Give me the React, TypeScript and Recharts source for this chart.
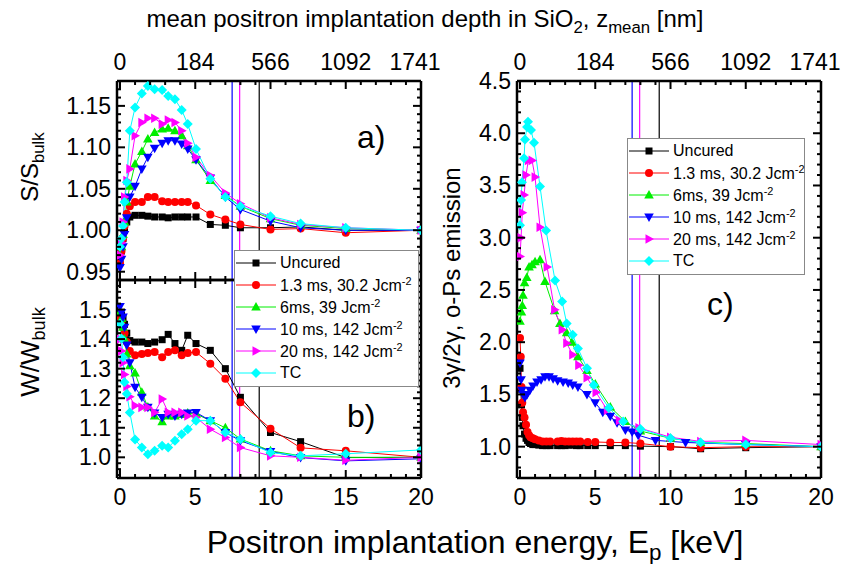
import { LineChart, Line, XAxis, YAxis, ReferenceLine, Legend } from 'recharts';

const W = 845;
const H = 564;
const FONT = '"Liberation Sans", Arial, sans-serif';
const TICK_FONT = 23;

// ---- axes ----
const energyDomain: [number, number] = [-0.2, 20];
const xMajor = [0, 5, 10, 15, 20];
const xMinor = [0, 1, 2, 3, 4, 5, 6, 7, 8, 9, 10, 11, 12, 13, 14, 15, 16, 17, 18, 19, 20];
const energyLabels = ['0', '5', '10', '15', '20'];
const depthLabels = ['0', '184', '566', '1092', '1741'];

const sDomain: [number, number] = [0.94, 1.18];
const sMajor = [0.95, 1.0, 1.05, 1.1, 1.15];
const sLabels = ['0.95', '1.00', '1.05', '1.10', '1.15'];

const wDomain: [number, number] = [0.93, 1.6];
const wMajor = [1.0, 1.1, 1.2, 1.3, 1.4, 1.5];
const wLabels = ['1.0', '1.1', '1.2', '1.3', '1.4', '1.5'];

const psDomain: [number, number] = [0.7, 4.5];
const psMajor = [1.0, 1.5, 2.0, 2.5, 3.0, 3.5, 4.0, 4.5];
const psLabels = ['1.0', '1.5', '2.0', '2.5', '3.0', '3.5', '4.0', '4.5'];

function steps(from: number, to: number, step: number) {
  const out: number[] = [];
  for (let v = from; v <= to + 1e-9; v += step) out.push(Math.round(v * 1000) / 1000);
  return out;
}
const sMinor = steps(0.94, 1.18, 0.01);
const wMinor = steps(0.94, 1.6, 0.02);
const psMinor = steps(0.7, 4.5, 0.1);

// vertical marker lines (keV)
const cutEnergies = [7.45, 7.95, 9.25];
const cutColors = ['#0000ff', '#ff00ff', '#000000'];

// ---- series ----
const seriesNames = ['Uncured', '1.3 ms, 30.2 Jcm', '6ms, 39 Jcm', '10 ms, 142 Jcm', '20 ms, 142 Jcm', 'TC'];
const seriesSup = ['', '-2', '-2', '-2', '-2', ''];
const seriesColors = ['#000000', '#ff0000', '#00ee00', '#0000ff', '#ff00ff', '#00ffff'];
const seriesMarkers = ['square', 'circle', 'up', 'down', 'right', 'diamond'];

// S and W profiles share one energy grid (keV)
const energyAB = [0, 0.1, 0.2, 0.3, 0.45, 0.65, 1.0, 1.45, 1.85, 2.3, 2.8, 3.2, 3.65, 4.1, 4.5, 5.05, 6, 7, 8, 10, 12, 15, 20];

const sUncured = [0.965, 0.975, 0.99, 1.0, 1.01, 1.016, 1.018, 1.018, 1.017, 1.016, 1.016, 1.015, 1.016, 1.016, 1.016, 1.016, 1.007, 1.006, 1.003, 1.003, 1.004, 1.0, 1.0];
const s13ms = [0.96, 0.975, 0.99, 1.005, 1.02, 1.029, 1.034, 1.034, 1.04, 1.04, 1.035, 1.034, 1.034, 1.034, 1.034, 1.03, 1.019, 1.013, 1.007, 1.001, 1.002, 0.997, 1.0];
const s6ms = [0.97, 0.98, 0.995, 1.01, 1.034, 1.053, 1.08, 1.095, 1.11, 1.118, 1.122, 1.123, 1.12, 1.114, 1.102, 1.085, 1.06, 1.042, 1.029, 1.014, 1.006, 1.002, 1.0];
const s10ms = [0.955, 0.965, 0.98, 0.995, 1.015, 1.04, 1.053, 1.074, 1.088, 1.099, 1.105, 1.108, 1.108, 1.104, 1.098, 1.085, 1.063, 1.04, 1.025, 1.011, 1.003, 1.0, 1.0];
const s20ms = [0.97, 0.985, 1.01, 1.04, 1.06, 1.074, 1.114, 1.13, 1.135, 1.135, 1.128, 1.133, 1.13, 1.12, 1.105, 1.088, 1.066, 1.045, 1.032, 1.015, 1.007, 1.003, 1.0];
const sTC = [0.98, 0.99, 1.005, 1.034, 1.058, 1.12, 1.148, 1.165, 1.174, 1.17, 1.169, 1.162, 1.158, 1.145, 1.128, 1.098, 1.062, 1.04, 1.029, 1.017, 1.008, 1.003, 1.0];

const wUncured = [1.49, 1.48, 1.47, 1.45, 1.42, 1.395, 1.39, 1.39, 1.385, 1.39, 1.398, 1.416, 1.385, 1.362, 1.413, 1.385, 1.362, 1.3, 1.203, 1.084, 1.053, 0.999, 1.0];
const w13ms = [1.475, 1.46, 1.44, 1.42, 1.39, 1.36, 1.345, 1.35, 1.353, 1.356, 1.339, 1.356, 1.362, 1.345, 1.353, 1.356, 1.317, 1.266, 1.186, 1.097, 1.032, 1.022, 1.0];
const w6ms = [1.49, 1.47, 1.44, 1.4, 1.35, 1.31, 1.285, 1.22, 1.17, 1.14, 1.12, 1.14, 1.14, 1.145, 1.15, 1.147, 1.124, 1.1, 1.062, 1.022, 1.005, 1.0, 1.0];
const w10ms = [1.51, 1.49, 1.475, 1.44, 1.38, 1.32, 1.237, 1.203, 1.169, 1.15, 1.135, 1.146, 1.14, 1.146, 1.15, 1.152, 1.124, 1.084, 1.056, 1.02, 0.999, 0.988, 0.995];
const w20ms = [1.4, 1.36, 1.32, 1.28, 1.24, 1.205, 1.175, 1.169, 1.169, 1.152, 1.197, 1.152, 1.152, 1.152, 1.14, 1.135, 1.095, 1.067, 1.033, 1.005, 1.0, 0.99, 1.0];
const wTC = [1.453, 1.402, 1.339, 1.254, 1.215, 1.152, 1.06, 1.033, 1.01, 1.022, 1.039, 1.033, 1.056, 1.078, 1.095, 1.124, 1.124, 1.084, 1.061, 1.016, 1.005, 1.012, 1.025];

// 3gamma/2gamma ratio, each sample has its own energy grid
const eDenseC = [0, 0.05, 0.1, 0.15, 0.2, 0.3, 0.4, 0.5, 0.6, 0.7, 0.85, 1.0, 1.25, 1.5, 1.75, 2.0, 2.5, 2.75, 3.0, 3.25, 3.5, 3.75, 4.0, 4.5, 5.0, 6.0, 7.0, 8.0, 10, 12, 15, 20];
const psUncured = [1.75, 1.55, 1.4, 1.28, 1.2, 1.12, 1.08, 1.06, 1.04, 1.03, 1.02, 1.02, 1.015, 1.01, 1.01, 1.01, 1.01, 1.01, 1.01, 1.015, 1.015, 1.01, 1.01, 1.01, 1.01, 1.01, 1.01, 1.005, 1.0, 0.98, 0.99, 1.0];
const ps13ms = [2.04, 1.86, 1.57, 1.42, 1.33, 1.28, 1.21, 1.14, 1.11, 1.09, 1.08, 1.07, 1.06, 1.05, 1.05, 1.05, 1.05, 1.055, 1.05, 1.05, 1.05, 1.05, 1.05, 1.045, 1.045, 1.04, 1.04, 1.03, 1.0, 0.99, 1.0, 1.0];
const e6msC = [0, 0.1, 0.15, 0.2, 0.3, 0.45, 0.6, 0.8, 1.0, 1.33, 1.66, 2.3, 2.65, 3.1, 3.45, 3.85, 4.45, 5.0, 6, 7, 8, 10, 12, 15, 20];
const ps6ms = [2.2, 2.29, 2.35, 2.45, 2.57, 2.62, 2.72, 2.74, 2.77, 2.79, 2.58, 2.3, 2.18, 2.09, 2.0, 1.86, 1.73, 1.6, 1.38, 1.24, 1.15, 1.08, 1.04, 1.03, 1.0];
const e10msC = [0, 0.07, 0.13, 0.2, 0.33, 0.47, 0.66, 0.86, 1.13, 1.4, 1.66, 1.93, 2.2, 2.5, 2.86, 3.2, 3.5, 3.85, 4.45, 5.0, 5.5, 6.0, 6.45, 7.0, 7.45, 7.85, 9.0, 11, 15, 20];
const ps10ms = [1.8, 1.64, 1.54, 1.5, 1.47, 1.5, 1.54, 1.58, 1.62, 1.64, 1.67, 1.67, 1.65, 1.63, 1.62, 1.61, 1.59, 1.57, 1.5, 1.42, 1.33, 1.29, 1.23, 1.16, 1.14, 1.11, 1.06, 1.04, 1.02, 1.0];
const e20msC = [0, 0.07, 0.15, 0.27, 0.4, 0.55, 0.8, 1.0, 1.33, 1.8, 2.3, 2.8, 3.1, 3.5, 3.9, 4.45, 5.05, 5.8, 6.6, 7.9, 10, 12, 15, 20];
const ps20ms = [2.82, 3.0, 3.24, 3.41, 3.6, 3.74, 3.74, 3.58, 3.1, 2.72, 2.31, 2.12, 1.99, 1.88, 1.78, 1.66, 1.52, 1.35, 1.25, 1.18, 1.09, 1.05, 1.06, 1.02];
const eTCC = [0, 0.07, 0.13, 0.27, 0.33, 0.47, 0.53, 0.73, 0.93, 1.33, 1.73, 2.33, 2.8, 3.1, 3.5, 3.85, 4.45, 4.9, 5.9, 6.85, 8.0, 10, 12, 15, 20];
const psTC = [3.12, 3.36, 3.53, 3.76, 3.94, 4.06, 4.11, 4.03, 3.91, 3.49, 3.07, 2.59, 2.39, 2.18, 2.07, 1.94, 1.75, 1.59, 1.37, 1.24, 1.17, 1.08, 1.04, 1.02, 1.0];

type Row = { E: number; v: number };
const toRows = (xs: number[], ys: number[]): Row[] => xs.map((E, i) => ({ E, v: ys[i] }));

const sSeries = [sUncured, s13ms, s6ms, s10ms, s20ms, sTC].map((ys) => toRows(energyAB, ys));
const wSeries = [wUncured, w13ms, w6ms, w10ms, w20ms, wTC].map((ys) => toRows(energyAB, ys));
const psSeries = [
  toRows(eDenseC, psUncured),
  toRows(eDenseC, ps13ms),
  toRows(e6msC, ps6ms),
  toRows(e10msC, ps10ms),
  toRows(e20msC, ps20ms),
  toRows(eTCC, psTC),
];

// ---- markers ----
function Marker({ cx, cy, shape, color }: { cx?: number; cy?: number; shape: string; color: string }) {
  if (cx == null || cy == null) return null;
  switch (shape) {
    case 'square':
      return <rect x={cx - 3.5} y={cy - 3.5} width={7} height={7} fill={color} />;
    case 'circle':
      return <circle cx={cx} cy={cy} r={4} fill={color} />;
    case 'up':
      return <polygon points={`${cx},${cy - 5} ${cx + 4.8},${cy + 3.5} ${cx - 4.8},${cy + 3.5}`} fill={color} />;
    case 'down':
      return <polygon points={`${cx},${cy + 5} ${cx + 4.8},${cy - 3.5} ${cx - 4.8},${cy - 3.5}`} fill={color} />;
    case 'right':
      return <polygon points={`${cx + 5},${cy} ${cx - 3.5},${cy - 4.8} ${cx - 3.5},${cy + 4.8}`} fill={color} />;
    default:
      return <polygon points={`${cx},${cy - 5} ${cx + 5},${cy} ${cx},${cy + 5} ${cx - 5},${cy}`} fill={color} />;
  }
}

// ---- ticks (inward, major + minor, optional label) ----
type Side = 'left' | 'right' | 'top' | 'bottom';

function makeTick(side: Side, majors: number[], labels: string[] | null) {
  return function TickMark(props: any) {
    const { x, y, payload } = props;
    const idx = majors.findIndex((m) => Math.abs(m - payload.value) < 1e-6);
    const len = idx >= 0 ? 8 : 4;
    let x2 = x;
    let y2 = y;
    if (side === 'left') x2 = x + len;
    if (side === 'right') x2 = x - len;
    if (side === 'top') y2 = y + len;
    if (side === 'bottom') y2 = y - len;
    const label = labels && idx >= 0 ? labels[idx] : null;
    let text = null;
    if (label) {
      const common = { fontSize: TICK_FONT, fontFamily: FONT, fill: '#000' };
      // the widest depth label sits a little inside the panel edge
      const nudge = side === 'top' && idx === majors.length - 1 ? -6 : 0;
      if (side === 'left') text = <text x={x - 6} y={y + 8} textAnchor="end" {...common}>{label}</text>;
      if (side === 'top') text = <text x={x + nudge} y={y - 11} textAnchor="middle" {...common}>{label}</text>;
      if (side === 'bottom') text = <text x={x} y={y + 27} textAnchor="middle" {...common}>{label}</text>;
    }
    return (
      <g>
        <line x1={x} y1={y} x2={x2} y2={y2} stroke="#000" strokeWidth={2} />
        {text}
      </g>
    );
  };
}

// ---- legend ----
function LegendBox({ fontSize }: { fontSize: number }) {
  return (
    <div
      style={{
        background: '#fff',
        border: '1px solid #888',
        padding: '1px 4px 2px 1px',
        fontFamily: FONT,
        fontSize,
        color: '#000',
      }}
    >
      {seriesNames.map((name, i) => (
        <div key={name} style={{ display: 'flex', alignItems: 'center', height: 22, whiteSpace: 'nowrap' }}>
          <svg width={40} height={12} style={{ flex: 'none' }}>
            <line x1={0} y1={6} x2={40} y2={6} stroke={seriesColors[i]} strokeWidth={1} />
            <Marker cx={20} cy={6} shape={seriesMarkers[i]} color={seriesColors[i]} />
          </svg>
          <span style={{ marginLeft: 4, lineHeight: 1 }}>
            {name}
            {seriesSup[i] && (
              <span style={{ fontSize: '0.68em', verticalAlign: '0.55em' }}>{seriesSup[i]}</span>
            )}
          </span>
        </div>
      ))}
    </div>
  );
}

// ---- one framed panel ----
interface PanelProps {
  left: number;
  right: number;
  top: number;
  bottom: number;
  series: Row[][];
  yDomain: [number, number];
  yMajor: number[];
  yLabels: string[];
  yMinor: number[];
  topLabels: string[] | null;
  bottomLabels: string[] | null;
  legend?: { left: number; top: number; width: number; fontSize: number };
}

function Panel(p: PanelProps) {
  const frame = { stroke: '#000', strokeWidth: 2.5 };
  // every axis takes 1px of room, the margins leave exactly the plot box
  return (
    <LineChart
      width={W}
      height={H}
      margin={{ left: p.left - 1, right: W - p.right - 1, top: p.top - 1, bottom: H - p.bottom - 1 }}
    >
      <XAxis
        xAxisId="bottom"
        orientation="bottom"
        dataKey="E"
        type="number"
        domain={energyDomain}
        allowDataOverflow
        ticks={xMinor}
        interval={0}
        height={1}
        tickSize={0}
        tickMargin={0}
        tickLine={false}
        axisLine={frame}
        tick={makeTick('bottom', xMajor, p.bottomLabels)}
      />
      <XAxis
        xAxisId="top"
        orientation="top"
        dataKey="E"
        type="number"
        domain={energyDomain}
        allowDataOverflow
        ticks={xMinor}
        interval={0}
        height={1}
        tickSize={0}
        tickMargin={0}
        tickLine={false}
        axisLine={frame}
        tick={makeTick('top', xMajor, p.topLabels)}
      />
      <YAxis
        yAxisId="left"
        orientation="left"
        type="number"
        domain={p.yDomain}
        allowDataOverflow
        ticks={p.yMinor}
        interval={0}
        width={1}
        tickSize={0}
        tickMargin={0}
        tickLine={false}
        axisLine={frame}
        tick={makeTick('left', p.yMajor, p.yLabels)}
      />
      <YAxis
        yAxisId="right"
        orientation="right"
        type="number"
        domain={p.yDomain}
        allowDataOverflow
        ticks={p.yMinor}
        interval={0}
        width={1}
        tickSize={0}
        tickMargin={0}
        tickLine={false}
        axisLine={frame}
        tick={makeTick('right', p.yMajor, null)}
      />
      {cutEnergies.map((e, i) => (
        <ReferenceLine key={e} x={e} xAxisId="bottom" yAxisId="left" stroke={cutColors[i]} strokeWidth={1.2} />
      ))}
      {p.series.map((rows, i) => (
        <Line
          key={seriesNames[i]}
          data={rows}
          dataKey="v"
          xAxisId="bottom"
          yAxisId="left"
          type="linear"
          stroke={seriesColors[i]}
          strokeWidth={1}
          isAnimationActive={false}
          activeDot={false}
          dot={(d: any) => (
            <Marker key={`${i}-${d.index}`} cx={d.cx} cy={d.cy} shape={seriesMarkers[i]} color={seriesColors[i]} />
          )}
        />
      ))}
      {p.legend && (
        <Legend
          layout="vertical"
          align="center"
          verticalAlign="middle"
          wrapperStyle={{ left: p.legend.left, top: p.legend.top, width: p.legend.width }}
          content={() => <LegendBox fontSize={p.legend!.fontSize} />}
        />
      )}
    </LineChart>
  );
}

function VTitle({ cx, cy, size, children }: { cx: number; cy: number; size: number; children: any }) {
  return (
    <div
      style={{
        position: 'absolute',
        left: cx - 160,
        top: cy - 20,
        width: 320,
        height: 40,
        lineHeight: '40px',
        textAlign: 'center',
        fontSize: size,
        transform: 'rotate(-90deg)',
        whiteSpace: 'nowrap',
      }}
    >
      {children}
    </div>
  );
}

const layer = { position: 'absolute' as const, left: 0, top: 0 };
const tag = (left: number, top: number) => ({
  position: 'absolute' as const,
  left,
  top,
  fontSize: 32,
  lineHeight: '32px',
});

export default function App() {
  return (
    <div
      style={{
        position: 'absolute',
        left: 0,
        top: 0,
        width: W,
        height: H,
        background: '#fff',
        fontFamily: FONT,
        color: '#000',
        overflow: 'hidden',
      }}
    >
      <div style={layer}>
        <Panel
          left={117} right={421} top={81} bottom={280}
          series={sSeries}
          yDomain={sDomain} yMajor={sMajor} yLabels={sLabels} yMinor={sMinor}
          topLabels={depthLabels} bottomLabels={null}
        />
      </div>
      <div style={layer}>
        <Panel
          left={117} right={421} top={280} bottom={478}
          series={wSeries}
          yDomain={wDomain} yMajor={wMajor} yLabels={wLabels} yMinor={wMinor}
          topLabels={null} bottomLabels={energyLabels}
          legend={{ left: 234, top: 250, width: 185, fontSize: 16 }}
        />
      </div>
      <div style={layer}>
        <Panel
          left={517} right={821} top={81} bottom={478}
          series={psSeries}
          yDomain={psDomain} yMajor={psMajor} yLabels={psLabels} yMinor={psMinor}
          topLabels={depthLabels} bottomLabels={energyLabels}
          legend={{ left: 627, top: 138, width: 178, fontSize: 16 }}
        />
      </div>

      <div style={{ position: 'absolute', left: 0, top: 5, width: 850, textAlign: 'center', fontSize: 24, lineHeight: '28px', whiteSpace: 'nowrap' }}>
        mean positron implantation depth in SiO<sub style={{ fontSize: '0.7em' }}>2</sub>, z<sub style={{ fontSize: '0.7em' }}>mean</sub> [nm]
      </div>
      <div style={{ position: 'absolute', left: 0, top: 524, width: 950, textAlign: 'center', fontSize: 32, lineHeight: '36px', whiteSpace: 'nowrap' }}>
        Positron implantation energy, E<sub style={{ fontSize: '0.7em' }}>p</sub> [keV]
      </div>

      <VTitle cx={30} cy={167} size={24}>
        S/S<sub style={{ fontSize: '0.7em' }}>bulk</sub>
      </VTitle>
      <VTitle cx={30} cy={352} size={26}>
        W/W<sub style={{ fontSize: '0.7em' }}>bulk</sub>
      </VTitle>
      <VTitle cx={452} cy={278} size={24}>
        3γ/2γ, o-Ps emission
      </VTitle>

      <div style={tag(357, 121)}>a)</div>
      <div style={tag(347, 400)}>b)</div>
      <div style={tag(707, 288)}>c)</div>
    </div>
  );
}
